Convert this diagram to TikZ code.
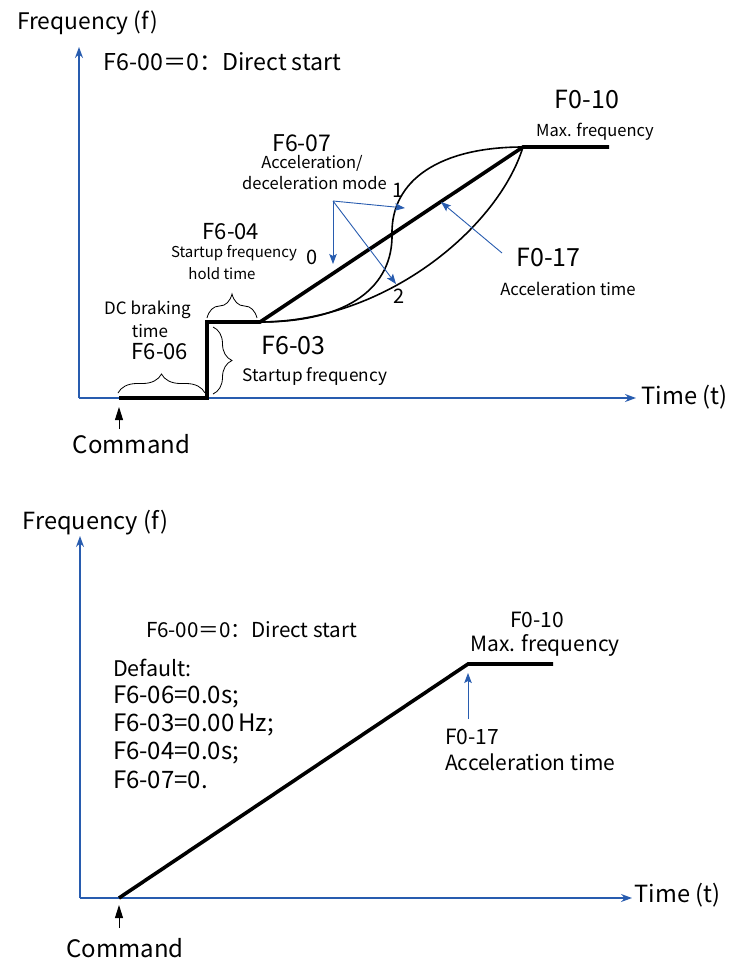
\documentclass[tikz,border=0pt]{standalone}
\usepackage{fontspec}
\setmainfont{Noto Sans CJK SC}
\usetikzlibrary{arrows.meta,decorations.pathreplacing}
\newcommand{\fsz}[1]{\fontsize{#1}{#1}\selectfont}
\definecolor{axblue}{RGB}{40,92,175}
\tikzset{
  axis/.style={draw=axblue,line width=1.3pt,-{Stealth[length=11pt,width=8pt]}},
  note/.style={draw=axblue,line width=0.9pt,-{Stealth[length=10pt,width=7.5pt,inset=2pt]}},
  cmdarrow/.style={draw=black,line width=0.9pt,-{Triangle[length=13pt,width=8pt]}},
  thick curve/.style={line width=3.6pt,line join=miter},
  thin curve/.style={line width=1.6pt},
  bracestyle/.style={draw,line width=0.8pt,decoration={brace,amplitude=#1}},
  lbl/.style={inner sep=0pt,outer sep=0pt,anchor=center},
}
\begin{document}
\begin{tikzpicture}[x=1pt,y=-1pt]
\useasboundingbox (0,0) rectangle (730,961);
% ================= TOP DIAGRAM =================
\coordinate (O1) at (79,398);
\coordinate (Ytop1) at (79,47);
\coordinate (Xend1) at (636,398);
\draw[axis] (O1) -- (Ytop1);
\draw[axis] (O1) -- (Xend1);
\node[lbl] (freq1) at (87.5,23) {\fsz{22.8}Frequency (f)};
\node[lbl] (time1) at (684.5,397) {\fsz{23.7}Time (t)};
\node[lbl] (title1) at (222.5,62) {\fsz{23.2}F6-00＝0：Direct start};

% main profile
\coordinate (c0) at (119,398);
\coordinate (c1) at (207,398);
\coordinate (c2) at (207,322);
\coordinate (c3) at (260,322);
\coordinate (cm) at (392,234);
\coordinate (c4) at (523,147);
\coordinate (c5) at (609,147);
\draw[thick curve] (c0) -- (c1) -- (c2) -- (c3) -- (c4) -- (c5);
% S-curve (1)
\draw[thin curve] (c3) .. controls (350,322) and (393,286) .. (cm)
                       .. controls (391,180) and (440,147) .. (c4);
% curve (2)
\draw[thin curve] (c3) .. controls (385,322) and (498,228) .. (c4);

% command
\node[lbl] (cmd1) at (131.5,444) {\fsz{24}Command};
\coordinate (cmdtail1) at (119,429);
\coordinate (cmdtip1) at (119,407);
\draw[cmdarrow] (cmdtail1) -- (cmdtip1);

% braces
\coordinate (b1a) at (118,393);
\coordinate (b1b) at (205,393);
\draw[bracestyle=19pt,decorate] (b1a) -- (b1b);
\coordinate (b2a) at (207,318);
\coordinate (b2b) at (257,318);
\draw[bracestyle=24pt,decorate] (b2a) -- (b2b);
\coordinate (b3a) at (213,327);
\coordinate (b3b) at (213,394);
\draw[bracestyle=19pt,decorate] (b3a) -- (b3b);

% labels left
\node[lbl] (dcb) at (147.5,310) {\fsz{17}DC braking};
\node[lbl] (dct) at (150,331) {\fsz{17}time};
\node[lbl] (f606) at (160,352) {\fsz{22}F6-06};
\node[lbl] (f604) at (231,232) {\fsz{22}F6-04};
\node[lbl] (sfh1) at (234,253) {\fsz{15}Startup frequency};
\node[lbl] (sfh2) at (222,274) {\fsz{15}hold time};
\node[lbl] (f603) at (293.5,345) {\fsz{25}F6-03};
\node[lbl] (sf) at (315,377) {\fsz{17.2}Startup frequency};

% F6-07
\node[lbl] (f607) at (302,143) {\fsz{23}F6-07};
\node[lbl] (acc1) at (312,163) {\fsz{16.5}Acceleration/};
\node[lbl] (dec1) at (314.5,183) {\fsz{16.5}deceleration mode};
\node[lbl] (m1) at (398,190) {\fsz{20}1};
\node[lbl] (m0) at (312,257) {\fsz{20}0};
\node[lbl] (m2) at (399,296) {\fsz{20}2};
\coordinate (src) at (333,201);
\coordinate (t0) at (333,264);
\coordinate (t1) at (405,208);
\coordinate (t2) at (396,284);
\draw[note] (src) -- (t0);
\draw[note] (src) -- (t1);
\draw[note] (src) -- (t2);

% F0-17 / F0-10
\node[lbl] (f017) at (548.5,257) {\fsz{25}F0-17};
\node[lbl] (acct) at (568,289) {\fsz{16.7}Acceleration time};
\coordinate (a17s) at (502,253);
\coordinate (a17t) at (441,202);
\draw[note] (a17s) -- (a17t);
\node[lbl] (f010) at (587,99) {\fsz{25}F0-10};
\node[lbl] (maxf) at (595,132) {\fsz{16.5}Max. frequency};

% ================= BOTTOM DIAGRAM =================
\coordinate (O2) at (80,898);
\coordinate (Ytop2) at (80,536);
\coordinate (Xend2) at (632,898);
\draw[axis] (O2) -- (Ytop2);
\draw[axis] (O2) -- (Xend2);
\node[lbl] (freq2) at (95.5,523) {\fsz{23.6}Frequency (f)};
\node[lbl] (time2) at (677.5,895) {\fsz{23.6}Time (t)};
\node[lbl] (title2) at (251.5,630) {\fsz{20.6}F6-00＝0：Direct start};
\node[lbl,anchor=west] (def) at (113,668) {\fsz{21.5}Default:};
\node[lbl,anchor=west] (d1) at (113,697) {\fsz{24}F6-06=0.0s;};
\node[lbl,anchor=west] (d2) at (113,725) {\fsz{24}F6-03=0.00\,Hz;};
\node[lbl,anchor=west] (d3) at (113,753) {\fsz{24}F6-04=0.0s;};
\node[lbl,anchor=west] (d4) at (113,780) {\fsz{24}F6-07=0.};

\coordinate (e0) at (119,898);
\coordinate (e1) at (468,664);
\coordinate (e2) at (553,664);
\draw[thick curve] (e0) -- (e1) -- (e2);
\node[lbl] (f010b) at (537,620) {\fsz{21}F0-10};
\node[lbl] (maxfb) at (545,645) {\fsz{21}Max. frequency};
\coordinate (a2s) at (468,719);
\coordinate (a2t) at (468,673);
\draw[note] (a2s) -- (a2t);
\node[lbl,anchor=west] (f017b) at (445,737) {\fsz{21}F0-17};
\node[lbl,anchor=west] (acctb) at (445,762) {\fsz{21}Acceleration time};

\node[lbl] (cmd2) at (125,948) {\fsz{24}Command};
\coordinate (cmdtail2) at (119,928);
\coordinate (cmdtip2) at (119,905);
\draw[cmdarrow] (cmdtail2) -- (cmdtip2);
\end{tikzpicture}
\end{document}
